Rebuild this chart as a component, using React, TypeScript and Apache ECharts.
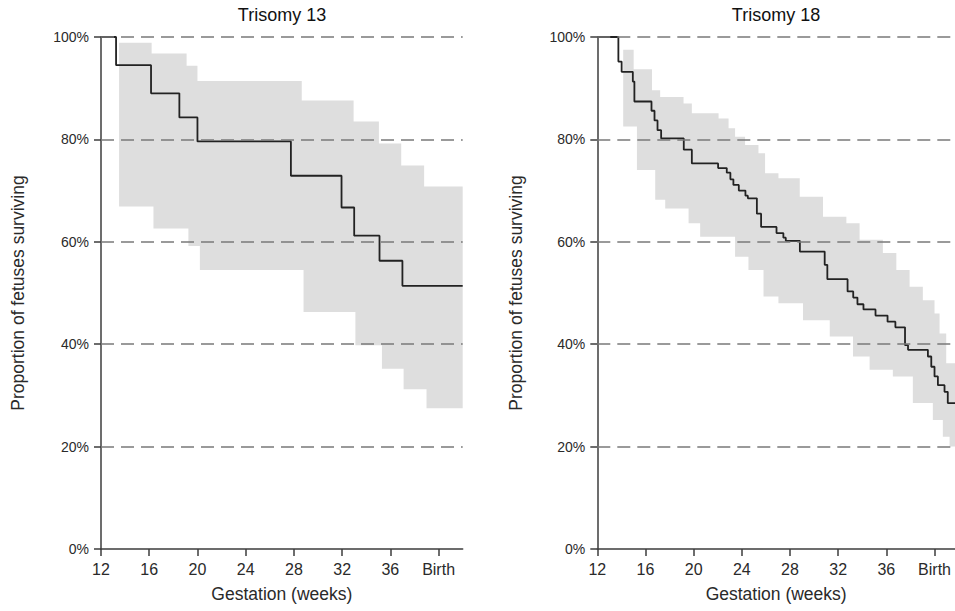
import React, { useEffect, useRef } from "react";
import * as echarts from "echarts";

// ---------- DATA ----------
const titles = ["Trisomy 13", "Trisomy 18"];
const xTicks = [12, 16, 20, 24, 28, 32, 36, 40];
const birthWeek = 40;
const yTicks = [20, 40, 60, 80, 100];

// Kaplan-Meier estimate [week, % surviving]
const km13: number[][] = [
  [12, 100], [13.25, 94.5], [16.15, 89.0], [18.5, 84.3], [20.0, 79.6],
  [27.75, 72.9], [31.95, 66.7], [33.0, 61.2], [35.1, 56.3], [37.0, 51.4], [42, 51.4],
];
const upper13: number[][] = [
  [13.5, 98.9], [16.2, 96.8], [19.1, 94.4], [20.0, 91.4], [28.65, 87.6],
  [32.95, 83.5], [35.05, 79.2], [36.9, 74.9], [38.8, 70.8], [42, 70.8],
];
const lower13: number[][] = [
  [13.5, 66.9], [16.35, 62.6], [19.25, 59.2], [20.2, 54.5], [28.8, 46.3],
  [33.1, 39.8], [35.3, 35.2], [37.1, 31.2], [39.0, 27.5], [42, 27.5],
];

const km18: number[][] = [
  [12, 100], [13.75, 95.2], [14.02, 93.2], [14.95, 91.3], [15.08, 87.4],
  [16.5, 85.6], [16.75, 83.7], [17.0, 81.8], [17.3, 80.2], [19.18, 78.0],
  [19.85, 75.3], [22.03, 74.4], [22.75, 73.5], [23.05, 72.2], [23.3, 71.1],
  [23.75, 70.0], [24.3, 69.0], [24.5, 68.5], [25.25, 65.5], [25.6, 62.9],
  [26.88, 61.7], [27.45, 60.8], [27.65, 60.2], [28.82, 58.1], [30.88, 55.5],
  [31.1, 52.7], [32.78, 50.3], [33.25, 49.1], [33.6, 47.8], [34.1, 46.8],
  [35.1, 45.6], [36.1, 44.4], [36.75, 43.3], [37.55, 39.8], [37.8, 38.9],
  [39.45, 37.6], [39.73, 35.6], [40.0, 33.7], [40.28, 32.0], [40.83, 30.7],
  [41.1, 28.5], [41.7, 28.5],
];
const upper18: number[][] = [
  [14.15, 97.5], [15.02, 93.7], [16.54, 89.6], [17.22, 88.3], [19.16, 87.0],
  [19.85, 85.1], [22.07, 84.1], [22.9, 82.2], [23.44, 80.5], [24.27, 78.9],
  [25.38, 77.3], [25.93, 73.4], [27.04, 72.4], [28.81, 68.8], [30.74, 64.9],
  [32.68, 63.6], [33.78, 60.4], [35.71, 57.8], [36.83, 54.5], [37.93, 51.2],
  [39.03, 48.6], [40.0, 46.0], [40.42, 42.1], [40.97, 36.3], [41.7, 36.3],
];
const lower18: number[][] = [
  [14.15, 82.5], [15.29, 74.0], [16.81, 68.2], [17.64, 66.5], [19.58, 63.6],
  [20.54, 61.0], [23.44, 57.1], [24.55, 54.5], [25.8, 49.3], [27.04, 48.0],
  [29.08, 44.7], [31.3, 41.5], [33.23, 37.6], [34.61, 35.0], [36.54, 33.7],
  [38.2, 28.5], [39.86, 25.2], [40.69, 21.9], [41.25, 20.0], [41.7, 20.0],
];

const panels = [
  { km: km13, upper: upper13, lower: lower13, xMax: 42 },
  { km: km18, upper: upper18, lower: lower18, xMax: 41.7 },
];

const FONT = "'Liberation Sans', Arial, Helvetica, sans-serif";
const AXIS_COLOR = "#3c3c3c";
const TEXT_COLOR = "#2a2a2a";

function buildOption() {
  const grids = [
    { left: 101, top: 37, width: 361.7, height: 512 },
    { left: 597.3, top: 37, width: 358.2, height: 512 },
  ];
  const xAxes: any[] = [];
  const yAxes: any[] = [];
  const series: any[] = [];

  panels.forEach((p, i) => {
    xAxes.push({
      type: "value",
      gridIndex: i,
      min: 12,
      max: p.xMax,
      interval: 4,
      name: "Gestation (weeks)",
      nameLocation: "middle",
      nameGap: 36,
      nameTextStyle: { fontSize: 17.5, color: TEXT_COLOR, fontFamily: FONT },
      axisLine: { show: true, onZero: false, lineStyle: { color: AXIS_COLOR, width: 1.5 } },
      axisTick: { show: true, length: 7, customValues: xTicks, lineStyle: { color: AXIS_COLOR, width: 1.5 } },
      axisLabel: {
        customValues: xTicks,
        fontSize: 16,
        color: TEXT_COLOR,
        fontFamily: FONT,
        margin: 12,
        formatter: (v: number) => (v === birthWeek ? "Birth" : xTicks.indexOf(v) >= 0 ? String(v) : ""),
      },
      splitLine: { show: false },
    });
    yAxes.push({
      type: "value",
      gridIndex: i,
      min: 0,
      max: 100,
      interval: 20,
      name: "Proportion of fetuses surviving",
      nameLocation: "middle",
      nameRotate: 90,
      nameGap: i === 0 ? 74 : 72,
      nameTextStyle: { fontSize: 17.5, color: TEXT_COLOR, fontFamily: FONT },
      axisLine: { show: true, lineStyle: { color: AXIS_COLOR, width: 1.5 } },
      axisTick: { show: true, length: 7, lineStyle: { color: AXIS_COLOR, width: 1.5 } },
      axisLabel: { fontSize: 14, color: TEXT_COLOR, fontFamily: FONT, margin: 12, formatter: "{value}%" },
      splitLine: { show: false },
    });

    const upper = p.upper;
    const lower = p.lower;
    series.push({
      type: "custom",
      xAxisIndex: i,
      yAxisIndex: i,
      silent: true,
      z: 1,
      data: [[upper[0][0], lower[0][1]]],
      renderItem: (_params: any, api: any) => {
        const pts: number[][] = [];
        for (let k = 0; k < upper.length - 1; k++) {
          pts.push(api.coord([upper[k][0], upper[k][1]]));
          pts.push(api.coord([upper[k + 1][0], upper[k][1]]));
        }
        for (let k = lower.length - 2; k >= 0; k--) {
          pts.push(api.coord([lower[k + 1][0], lower[k][1]]));
          pts.push(api.coord([lower[k][0], lower[k][1]]));
        }
        return { type: "polygon", shape: { points: pts }, style: { fill: "#dedede" } };
      },
    });
    series.push({
      type: "line",
      xAxisIndex: i,
      yAxisIndex: i,
      step: "end",
      showSymbol: false,
      symbol: "none",
      silent: true,
      z: 3,
      data: p.km,
      lineStyle: { color: "#222", width: 1.8 },
      markLine: {
        silent: true,
        symbol: ["none", "none"],
        label: { show: false },
        lineStyle: { type: [13, 7], color: "#7a7a7a", width: 1.7 },
        data: yTicks.map((v) => ({ yAxis: v })),
      },
    });
  });

  return {
    animation: false,
    backgroundColor: "#ffffff",
    textStyle: { fontFamily: FONT },
    grid: grids,
    xAxis: xAxes,
    yAxis: yAxes,
    series,
    graphic: [
      { type: "text", x: 282, y: 6, style: { text: titles[0], align: "center", verticalAlign: "top", fontSize: 18, fontFamily: FONT, fill: "#111" } },
      { type: "text", x: 776, y: 6, style: { text: titles[1], align: "center", verticalAlign: "top", fontSize: 18, fontFamily: FONT, fill: "#111" } },
    ],
  };
}

export default function App() {
  const ref = useRef<HTMLDivElement>(null);
  useEffect(() => {
    if (!ref.current) return;
    const chart = echarts.init(ref.current, undefined, { renderer: "svg" });
    chart.setOption(buildOption() as any);
    return () => chart.dispose();
  }, []);
  return (
    <div
      ref={ref}
      style={{ position: "absolute", left: 0, top: 0, width: 955, height: 611, background: "#fff" }}
    />
  );
}
